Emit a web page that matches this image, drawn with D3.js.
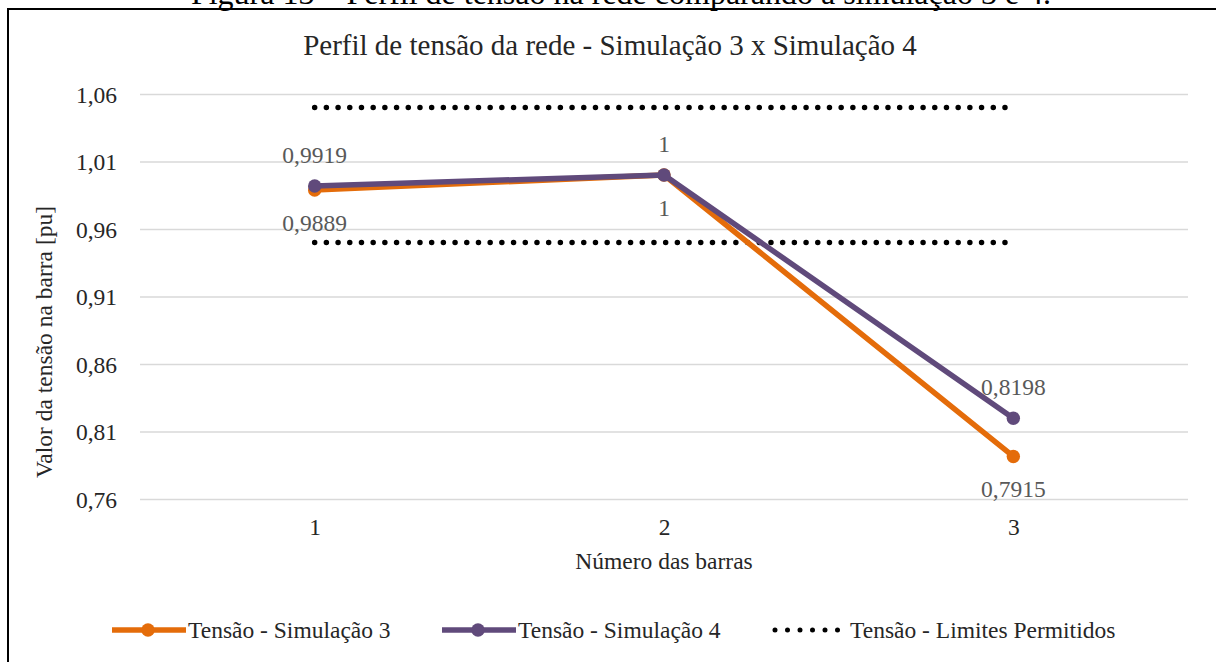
<!DOCTYPE html>
<html>
<head>
<meta charset="utf-8">
<script src="https://cdn.jsdelivr.net/npm/d3@7"></script>
<style>
  html, body { margin: 0; padding: 0; background: #fff; overflow: hidden; }
  svg { display: block; font-family: "Liberation Serif", "Times New Roman", serif; }
</style>
</head>
<body>
<div id="chart"></div>
<script>
//Datos
const barras = ['1', '2', '3'];
const simulacao3 = [0.9889, 1, 0.7915];
const simulacao4 = [0.9919, 1, 0.8198];
const limiteSuperior = [1.05, 1.05, 1.05];
const limiteInferior = [0.95, 0.95, 0.95];
const yTicks = [0.76, 0.81, 0.86, 0.91, 0.96, 1.01, 1.06];

//Colores
const COLOR_SIM3 = '#E46C0A',
      COLOR_SIM4 = '#604A7B',
      COLOR_GRID = '#D9D9D9',
      COLOR_TEXT = '#262626',
      COLOR_LABEL = '#595959';

const W = 1216, H = 662;
const svg = d3.select('#chart').append('svg')
    .attr('width', W)
    .attr('height', H);

//Pie de figura (cortado en el original) y marco
svg.append('text')
    .attr('x', 621).attr('y', 4)
    .attr('text-anchor', 'middle')
    .style('font-size', '32px')
    .attr('fill', '#000')
    .text('Figura 13 – Perfil de tensão na rede comparando a simulação 3 e 4.');

svg.append('rect')
    .attr('x', 8).attr('y', 9)
    .attr('width', 1400).attr('height', 1000)
    .attr('fill', 'none')
    .attr('stroke', '#000')
    .attr('stroke-width', 2);

//Escalas
let x = d3.scalePoint()
    .domain(barras)
    .range([140, 1188])
    .padding(0.5);

let y = d3.scaleLinear()
    .domain([0.76, 1.06])
    .range([499, 94]);

const fmt = v => String(v).replace('.', ',');

//Título
svg.append('text')
    .attr('x', 610).attr('y', 55)
    .attr('text-anchor', 'middle')
    .style('font-size', '29px')
    .attr('fill', COLOR_TEXT)
    .text('Perfil de tensão da rede - Simulação 3 x Simulação 4');

//Eje Y + rejilla
let yAxis = function(g) {
    g.call(d3.axisLeft(y).tickValues(yTicks).tickFormat(d => d3.format('.2f')(d).replace('.', ',')).tickSize(0).tickPadding(23));
    g.call(g => g.select('.domain').remove());
    g.selectAll('text')
        .attr('dy', '0.34em')
        .style('font-size', '23.5px')
        .style('font-family', '"Liberation Serif", serif')
        .attr('fill', COLOR_TEXT);
    g.selectAll('.tick').append('line')
        .attr('x1', 0).attr('x2', 1188 - 140)
        .attr('stroke', COLOR_GRID)
        .attr('stroke-width', 1.5);
};
svg.append('g')
    .attr('transform', 'translate(140,0)')
    .call(yAxis);

//Eje X
let xAxis = function(g) {
    g.call(d3.axisBottom(x).tickSize(0).tickPadding(0));
    g.call(g => g.select('.domain').remove());
    g.selectAll('text')
        .attr('dy', 0).attr('y', 36)
        .style('font-size', '23.5px')
        .style('font-family', '"Liberation Serif", serif')
        .attr('fill', COLOR_TEXT);
};
svg.append('g')
    .attr('transform', 'translate(0,499)')
    .call(xAxis);

//Títulos de ejes
svg.append('text')
    .attr('x', 664).attr('y', 569)
    .attr('text-anchor', 'middle')
    .style('font-size', '23.5px')
    .attr('fill', COLOR_TEXT)
    .text('Número das barras');

svg.append('text')
    .attr('transform', 'translate(52,342) rotate(-90)')
    .attr('text-anchor', 'middle')
    .style('font-size', '23.5px')
    .attr('fill', COLOR_TEXT)
    .text('Valor da tensão na barra [pu]');

//Límites (punteado)
let line = d3.line()
    .x((d, i) => x(barras[i]))
    .y(d => y(d));

[limiteSuperior, limiteInferior].forEach(function(serie) {
    svg.append('path')
        .datum(serie)
        .attr('d', line)
        .attr('fill', 'none')
        .attr('stroke', '#000')
        .attr('stroke-width', 5.5)
        .attr('stroke-linecap', 'round')
        .attr('stroke-dasharray', '0 11.7');
});

//Series
let series = [
    { nombre: 'Tensão - Simulação 3', valores: simulacao3, color: COLOR_SIM3, offset: 41 },
    { nombre: 'Tensão - Simulação 4', valores: simulacao4, color: COLOR_SIM4, offset: -23 }
];

series.forEach(function(s) {
    svg.append('path')
        .datum(s.valores)
        .attr('d', line)
        .attr('fill', 'none')
        .attr('stroke', s.color)
        .attr('stroke-width', 5.5)
        .attr('stroke-linejoin', 'round');

    svg.append('g')
        .selectAll('circle')
        .data(s.valores)
        .enter()
        .append('circle')
        .attr('cx', (d, i) => x(barras[i]))
        .attr('cy', d => y(d))
        .attr('r', 6.7)
        .attr('fill', s.color);
});

//Etiquetas de datos
series.forEach(function(s) {
    svg.append('g')
        .selectAll('text')
        .data(s.valores)
        .enter()
        .append('text')
        .attr('x', (d, i) => x(barras[i]))
        .attr('y', d => y(d) + s.offset)
        .attr('text-anchor', 'middle')
        .style('font-size', '23.5px')
        .attr('fill', COLOR_LABEL)
        .text(d => fmt(d));
});

//Leyenda
let legend = svg.append('g').attr('transform', 'translate(0,630)');
let items = [
    { nombre: 'Tensão - Simulação 3', color: COLOR_SIM3, tipo: 'linea', x0: 112 },
    { nombre: 'Tensão - Simulação 4', color: COLOR_SIM4, tipo: 'linea', x0: 442 },
    { nombre: 'Tensão - Limites Permitidos', color: '#000', tipo: 'punto', x0: 772 }
];
items.forEach(function(it) {
    let g = legend.append('g');
    if (it.tipo === 'linea') {
        g.append('line')
            .attr('x1', it.x0).attr('x2', it.x0 + 74)
            .attr('stroke', it.color)
            .attr('stroke-width', 5.5);
        g.append('circle')
            .attr('cx', it.x0 + 36).attr('cy', 0)
            .attr('r', 6.7)
            .attr('fill', it.color);
    } else {
        g.append('line')
            .attr('x1', it.x0 + 3).attr('x2', it.x0 + 68)
            .attr('stroke', '#000')
            .attr('stroke-width', 5)
            .attr('stroke-linecap', 'round')
            .attr('stroke-dasharray', '0 12.5');
    }
    g.append('text')
        .attr('x', it.x0 + (it.tipo === 'linea' ? 76 : 78))
        .attr('y', 8)
        .style('font-size', '23.5px')
        .attr('fill', COLOR_TEXT)
        .text(it.nombre);
});
</script>
</body>
</html>
